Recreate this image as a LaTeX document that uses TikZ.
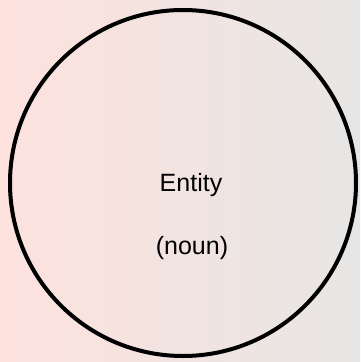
\documentclass[tikz,border=0pt]{standalone}
\usepackage{fontspec}
\setmainfont{Liberation Sans}
\definecolor{bgleft}{HTML}{FDE2DE}
\definecolor{bgright}{HTML}{E7E6E4}
\begin{document}
\begin{tikzpicture}[x=1pt,y=-1pt,
  entitycircle/.style={circle, draw=black, line width=4pt, minimum size=346pt, inner sep=0pt},
  label/.style={anchor=base, inner sep=0pt, font=\fontsize{25}{30}\selectfont}]
\shade[left color=bgleft, right color=bgright] (0,0) rectangle (360,362);
\useasboundingbox (0,0) rectangle (360,362);
\node[entitycircle] (entity) at (183,183) {};
\node[label] (name) at (191,191.5) {Entity};
\node[label] (kind) at (192,254) {(noun)};
\end{tikzpicture}
\end{document}
